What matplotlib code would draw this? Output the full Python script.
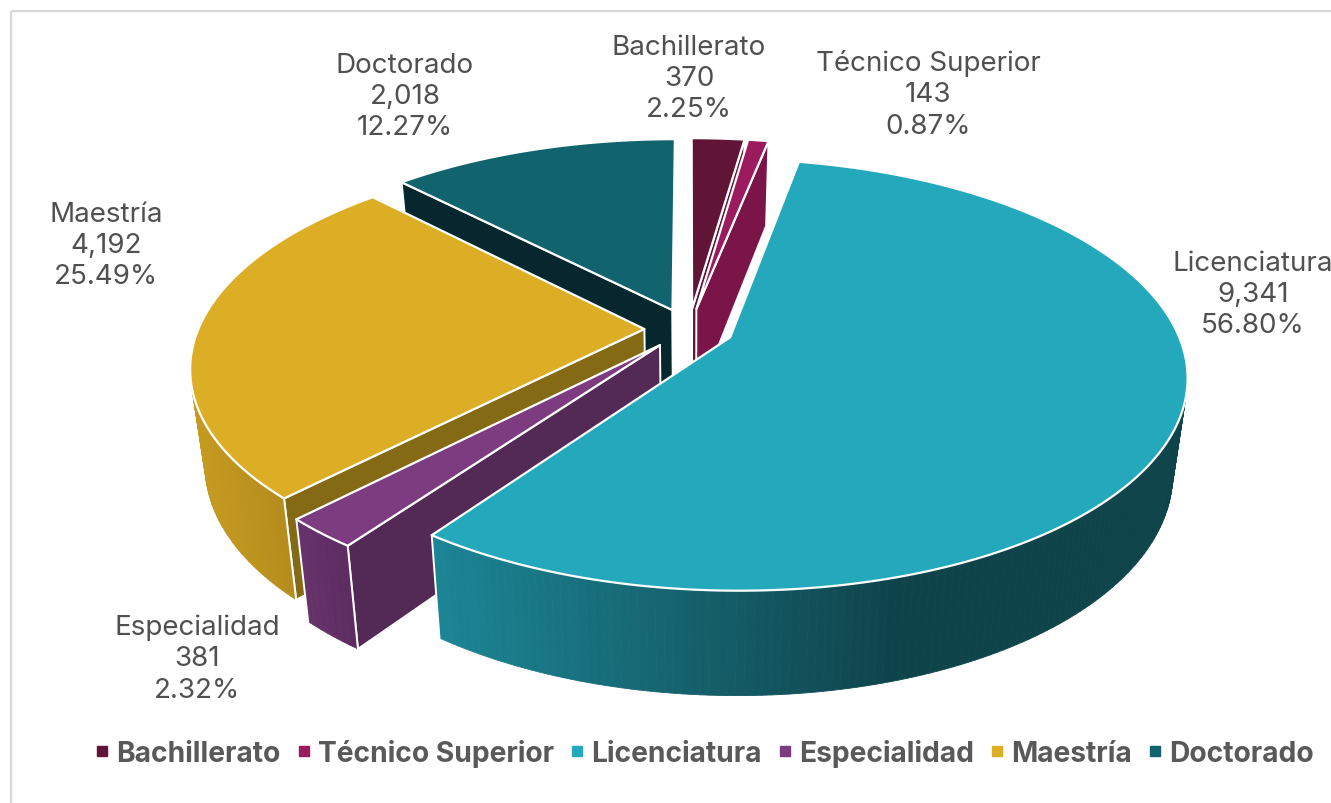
import matplotlib
matplotlib.use("Agg")
import matplotlib.pyplot as plt
from matplotlib.collections import PolyCollection
from matplotlib.colors import to_rgb
from matplotlib.lines import Line2D
from matplotlib.patches import Polygon, Rectangle
import numpy as np

# Chart data
categories = ["Bachillerato", "Técnico Superior", "Licenciatura", "Especialidad", "Maestría", "Doctorado"]
totals = [370, 143, 9341, 381, 4192, 2018]
percents = [2.25, 0.87, 56.80, 2.32, 25.49, 12.27]

# Colours per slice
top_colors = ["#611536", "#9b1b5e", "#24a9bc", "#7e3c80", "#dbae26", "#11646e"]
face_colors = ["#5c1433", "#7b1449", "#123f46", "#532a55", "#856a15", "#06272d"]
side_left = ["#611536", "#9b1b5e", "#1c8595", "#67326b", "#c59a20", "#11646e"]
side_right = ["#611536", "#9b1b5e", "#0f444b", "#5a2b5e", "#b38b1b", "#11646e"]
side_range = [(0, 1), (0, 1), (440, 900), (300, 360), (195, 295), (0, 1)]

# Label centres in pixels
label_pos = [(689, 79), (928, 95), (1253, 295), (197, 659), (106, 246), (405, 97)]

# Back slices first, front slices painted over them
draw_order = [5, 0, 1, 4, 3, 2]

TEXT_GREY = "#505050"
LEGEND_GREY = "#595959"
FONT = "Inter"


class Camera:
    CX = 689
    CY = 330
    A = 446
    B = 206.5
    K = 0.1726
    DEPTH = 94
    DEPTH_K = 0.10
    SHRINK = 0.03
    EXPLODE = 0.10


def project(x, y, z):
    w = 1 + Camera.K * y
    sx = Camera.CX + Camera.A * x / w * (1 - Camera.SHRINK * z)
    sy = Camera.CY - Camera.B * y / w + z * Camera.DEPTH / (1 + Camera.DEPTH_K * y)
    return np.column_stack([sx, sy])


def lerp_color(c1, c2, t):
    c1 = np.array(to_rgb(c1))
    c2 = np.array(to_rgb(c2))
    return tuple(c1 + (c2 - c1) * np.clip(t, 0, 1))


def draw_slice(ax, i, start, end):
    mid = (start + end) / 2
    ex = Camera.EXPLODE * np.sin(mid)
    ey = Camera.EXPLODE * np.cos(mid)

    n = max(int((end - start) * 60), 8)
    t = np.linspace(start, end, n)
    rx = ex + np.sin(t)
    ry = ey + np.cos(t)
    zero = np.zeros(n)
    one = np.ones(n)

    rim_top = project(rx, ry, zero)
    rim_bot = project(rx, ry, one)
    apex_top = project(np.array([ex]), np.array([ey]), np.array([0]))
    apex_bot = project(np.array([ex]), np.array([ey]), np.array([1]))

    # radial faces, only the ones turned to the viewer
    visible = []
    if np.sin(start) <= 1e-6:
        visible.append(0)
    if np.sin(end) >= -1e-6:
        visible.append(-1)
    for k in visible:
        pts = np.vstack([apex_top, rim_top[k], rim_bot[k], apex_bot])
        ax.add_patch(Polygon(pts, closed=True, facecolor=face_colors[i],
                             edgecolor="white", linewidth=1.4, joinstyle="round"))

    # outer wall, shaded along x
    quads = []
    colors = []
    x0, x1 = side_range[i]
    for j in range(n - 1):
        if np.cos(t[j]) > 0.1:
            continue
        quads.append([rim_top[j], rim_top[j + 1], rim_bot[j + 1], rim_bot[j]])
        colors.append(lerp_color(side_right[i], side_left[i],
                                 (x1 - rim_top[j][0]) / (x1 - x0)))
    if quads:
        ax.add_collection(PolyCollection(quads, facecolors=colors, edgecolors=colors, linewidths=0.6))
        for k in [0, -1]:
            if np.cos(t[k]) < 0:
                ax.plot([rim_top[k][0], rim_bot[k][0]], [rim_top[k][1], rim_bot[k][1]],
                        color="white", lw=1.4)

    # top
    pts = np.vstack([apex_top, rim_top])
    ax.add_patch(Polygon(pts, closed=True, facecolor=top_colors[i],
                         edgecolor="white", linewidth=1.6, joinstyle="round"))


def main():
    fig = plt.figure(figsize=(13.31, 8.04), dpi=100)
    ax = fig.add_axes([0, 0, 1, 1])
    ax.set_xlim(0, 1331)
    ax.set_ylim(804, 0)
    ax.axis("off")

    # chart frame, runs off the canvas on the right and bottom
    ax.add_patch(Rectangle((10.5, 12), 1400, 900, fill=False, edgecolor="#d9d9d9", linewidth=1.6))

    shares = np.array(totals) / sum(totals) * 2 * np.pi
    ends = np.cumsum(shares)
    starts = ends - shares

    for i in draw_order:
        draw_slice(ax, i, starts[i], ends[i])

    for i in range(len(categories)):
        label = f"{categories[i]}\n{totals[i]:,}\n{percents[i]:.2f}%"
        ax.text(label_pos[i][0], label_pos[i][1], label, ha="center", va="center",
                multialignment="center", fontsize=20, color=TEXT_GREY, family=FONT,
                linespacing=1.267, clip_on=False)

    handles = [Line2D([], [], linestyle="none", marker="s", markersize=7, color=c) for c in top_colors]
    fig.legend(handles, categories, loc="center", bbox_to_anchor=(705 / 1331, 1 - 754 / 804),
               ncol=6, frameon=False, handletextpad=0.3, columnspacing=0.62, handlelength=0.4,
               prop={"family": FONT, "weight": "bold", "size": 20.3}, labelcolor=LEGEND_GREY)

    fig.savefig("out.png", dpi=100)


if __name__ == "__main__":
    main()
